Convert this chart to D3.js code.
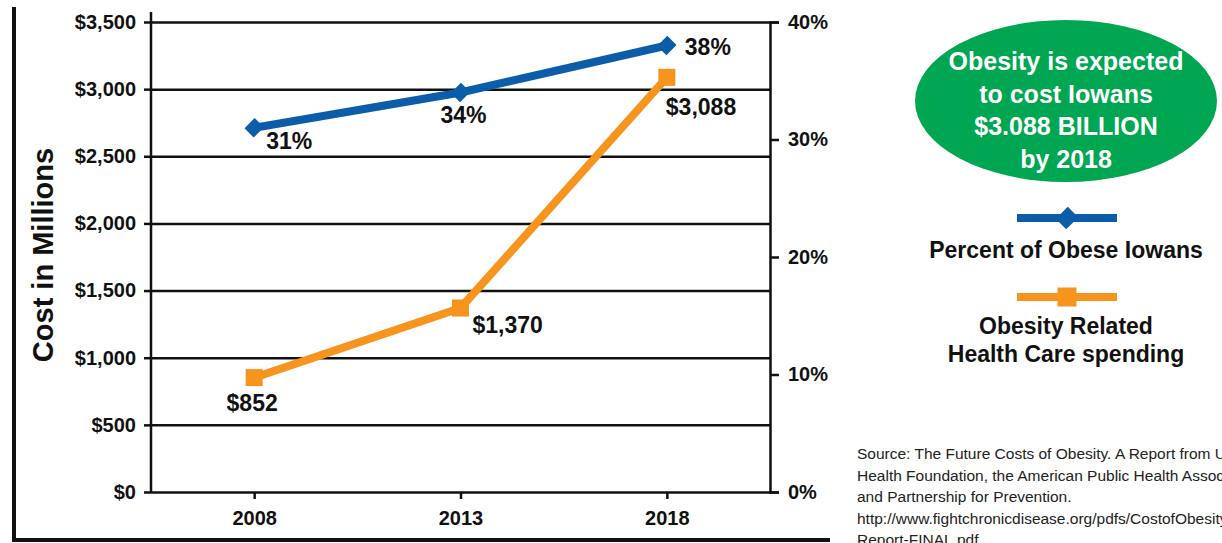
<!DOCTYPE html>
<html>
<head>
<meta charset="utf-8">
<script src="https://cdn.jsdelivr.net/npm/d3@7"></script>
<style>
  html, body { margin: 0; padding: 0; background: #fff; overflow: hidden; }
  svg { display: block; font-family: "Liberation Sans", Arial, Helvetica, sans-serif; }
  .axis text { font-size: 20px; font-weight: bold; fill: #111; }
  .axis line, .axis path { stroke: #111; stroke-width: 2.5; }
  .grid line { stroke: #111; stroke-width: 2.5; }
</style>
</head>
<body>
<div id="chart"></div>
<script>
// data
const years = [2008, 2013, 2018];
const obesePct = [31, 34, 38];
const costMillions = [852, 1370, 3088];
const costTicks = [0, 500, 1000, 1500, 2000, 2500, 3000, 3500];
const pctTicks = [0, 10, 20, 30, 40];
const calloutLines = ["Obesity is expected", "to cost Iowans", "$3.088 BILLION", "by 2018"];
const legendNames = [["Percent of Obese Iowans"], ["Obesity Related", "Health Care spending"]];
const sourceLines = [
  "Source: The Future Costs of Obesity. A Report from United",
  "Health Foundation, the American Public Health Association",
  "and Partnership for Prevention.",
  "http://www.fightchronicdisease.org/pdfs/CostofObesity",
  "Report-FINAL.pdf"
];

const width = 1222, height = 543;
const blue = "#0b5ca9", orange = "#f7941d", green = "#00a651";
const margin = {top: 22, left: 151, right: 452, bottom: 51};
const plotW = width - margin.left - margin.right;
const plotH = height - margin.top - margin.bottom;

const x = d3.scaleLinear().domain([2005.5, 2020.5]).range([0, plotW]);
const yCost = d3.scaleLinear().domain([0, 3500]).range([plotH, 0]);
const yPct = d3.scaleLinear().domain([0, 40]).range([plotH, 0]);

const svg = d3.select("#chart").append("svg")
  .attr("width", width)
  .attr("height", height);

// outer frame (left + bottom)
svg.append("path")
  .attr("d", "M14,7V540H830")
  .attr("fill", "none")
  .attr("stroke", "#111")
  .attr("stroke-width", 4);

const g = svg.append("g")
  .attr("transform", `translate(${margin.left},${margin.top})`);

// gridlines
g.append("g")
  .attr("class", "grid")
  .call(d3.axisLeft(yCost).tickValues(costTicks).tickSize(-plotW).tickFormat(""))
  .call(s => s.select(".domain").remove());

// left axis
g.append("g")
  .attr("class", "axis y")
  .call(d3.axisLeft(yCost).tickValues(costTicks).tickSizeOuter(0).tickSize(7).tickPadding(8)
    .tickFormat(d => "$" + d3.format(",")(d)))
  .call(s => s.select(".domain").remove());

g.append("line")
  .attr("x1", 0).attr("x2", 0)
  .attr("y1", -10).attr("y2", plotH)
  .attr("stroke", "#111").attr("stroke-width", 2.5);

// right axis
g.append("g")
  .attr("class", "axis y2")
  .attr("transform", `translate(${plotW},0)`)
  .call(d3.axisRight(yPct).tickValues(pctTicks).tickSizeOuter(0).tickSize(9).tickPadding(9)
    .tickFormat(d => d + "%"));

// bottom axis
g.append("g")
  .attr("class", "axis x")
  .attr("transform", `translate(0,${plotH})`)
  .call(d3.axisBottom(x).tickValues(years).tickSizeOuter(0).tickSize(7).tickPadding(12)
    .tickFormat(d3.format("d")))
  .call(s => s.select(".domain").remove());

// axis title
svg.append("text")
  .attr("transform", "translate(53,255) rotate(-90)")
  .attr("text-anchor", "middle")
  .attr("font-size", 29)
  .attr("font-weight", "bold")
  .attr("fill", "#111")
  .text("Cost in Millions");

const pctData = years.map((yr, i) => ({year: yr, value: obesePct[i]}));
const costData = years.map((yr, i) => ({year: yr, value: costMillions[i]}));

// series lines
g.append("path")
  .datum(costData)
  .attr("fill", "none")
  .attr("stroke", orange)
  .attr("stroke-width", 8)
  .attr("d", d3.line().x(d => x(d.year)).y(d => yCost(d.value)));

g.append("path")
  .datum(pctData)
  .attr("fill", "none")
  .attr("stroke", blue)
  .attr("stroke-width", 8)
  .attr("d", d3.line().x(d => x(d.year)).y(d => yPct(d.value)));

// markers
g.selectAll(".sq")
  .data(costData)
  .enter().append("path")
  .attr("class", "sq")
  .attr("transform", d => `translate(${x(d.year)},${yCost(d.value)})`)
  .attr("d", d3.symbol(d3.symbolSquare, 289))
  .attr("fill", orange);

g.selectAll(".dm")
  .data(pctData)
  .enter().append("path")
  .attr("class", "dm")
  .attr("transform", d => `translate(${x(d.year)},${yPct(d.value)}) rotate(45) scale(1,1.1)`)
  .attr("d", d3.symbol(d3.symbolSquare, 170))
  .attr("fill", blue);

// value labels
const pctOffsets = [[12, 21, "start"], [3, 30, "middle"], [18, 9, "start"]];
const costOffsets = [[-2, 33, "middle"], [12, 25, "start"], [-1, 38, "start"]];

g.selectAll(".pct-label")
  .data(pctData)
  .enter().append("text")
  .attr("x", (d, i) => x(d.year) + pctOffsets[i][0])
  .attr("y", (d, i) => yPct(d.value) + pctOffsets[i][1])
  .attr("text-anchor", (d, i) => pctOffsets[i][2])
  .attr("font-size", 23).attr("font-weight", "bold").attr("fill", "#111")
  .text(d => d.value + "%");

g.selectAll(".cost-label")
  .data(costData)
  .enter().append("text")
  .attr("x", (d, i) => x(d.year) + costOffsets[i][0])
  .attr("y", (d, i) => yCost(d.value) + costOffsets[i][1])
  .attr("text-anchor", (d, i) => costOffsets[i][2])
  .attr("font-size", 23).attr("font-weight", "bold").attr("fill", "#111")
  .text(d => "$" + d3.format(",")(d.value));

// callout ellipse
const cx = 1066;
svg.append("ellipse")
  .attr("cx", cx).attr("cy", 101)
  .attr("rx", 151).attr("ry", 81)
  .attr("fill", green);

svg.append("g").selectAll("text")
  .data(calloutLines)
  .enter().append("text")
  .attr("x", cx)
  .attr("y", (d, i) => 70 + i * 32.5)
  .attr("text-anchor", "middle")
  .attr("font-size", 25).attr("font-weight", "bold").attr("fill", "#fff")
  .text(d => d);

// legend
const legend = svg.append("g");
legend.append("line")
  .attr("x1", 1017).attr("x2", 1117).attr("y1", 218).attr("y2", 218)
  .attr("stroke", blue).attr("stroke-width", 8);
legend.append("path")
  .attr("transform", "translate(1067,218) rotate(45) scale(1,1.15)")
  .attr("d", d3.symbol(d3.symbolSquare, 220))
  .attr("fill", blue);
legend.append("line")
  .attr("x1", 1017).attr("x2", 1117).attr("y1", 297).attr("y2", 297)
  .attr("stroke", orange).attr("stroke-width", 8);
legend.append("path")
  .attr("transform", "translate(1067,297)")
  .attr("d", d3.symbol(d3.symbolSquare, 361))
  .attr("fill", orange);

const legendY = [[258], [334, 362]];
legendNames.forEach((lines, k) => {
  lines.forEach((t, j) => {
    legend.append("text")
      .attr("x", cx).attr("y", legendY[k][j])
      .attr("text-anchor", "middle")
      .attr("font-size", 23).attr("font-weight", "bold").attr("fill", "#111")
      .text(t);
  });
});

// source note (runs off the right edge, as in the original)
svg.append("g").selectAll("text")
  .data(sourceLines)
  .enter().append("text")
  .attr("x", 857)
  .attr("y", (d, i) => 459 + i * 21.5)
  .attr("font-size", 15.5)
  .attr("fill", "#222")
  .text(d => d);
</script>
</body>
</html>
